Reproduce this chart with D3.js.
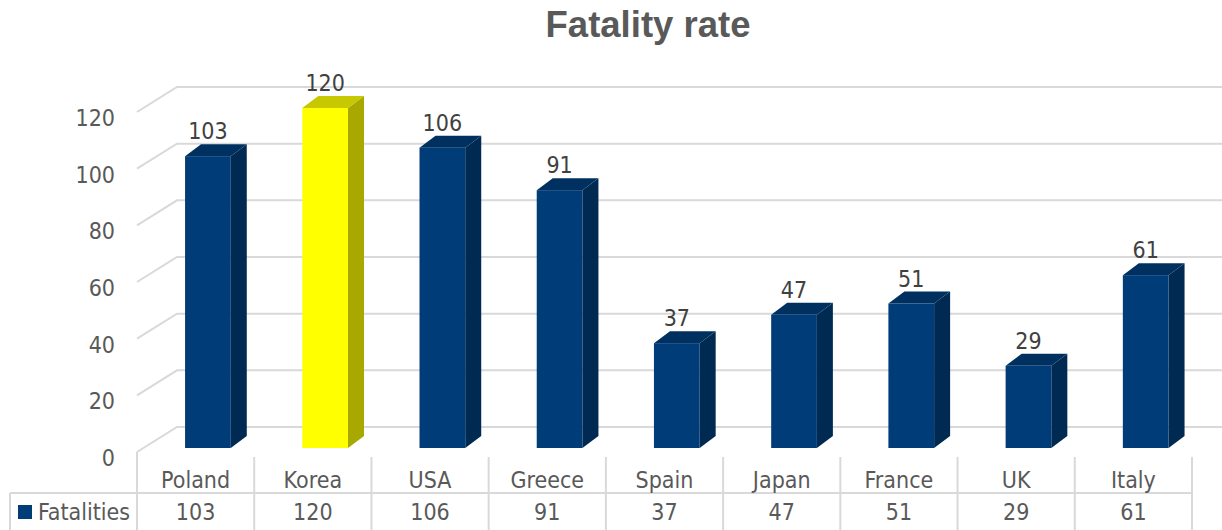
<!DOCTYPE html>
<html><head><meta charset="utf-8">
<script src="https://cdn.jsdelivr.net/npm/d3@7/dist/d3.min.js"></script>
<style>body{margin:0;background:#fff}svg{display:block}</style>
</head><body><svg id="c" width="1222" height="530"></svg>
<script>
const title = "Fatality rate";
const seriesName = "Fatalities";
const categories = ["Poland","Korea","USA","Greece","Spain","Japan","France","UK","Italy"];
const values = [103,120,106,91,37,47,51,29,61];
const highlight = ["Korea"];
const yTicks = [0,20,40,60,80,100,120];

const svg = d3.select("#c");
const font = "'DejaVu Sans Condensed', 'DejaVu Sans', Verdana, sans-serif";
const fs = 23;
const grid = "#d9d9d9";
const txt = "#595959";

const x = d3.scaleBand().domain(categories).range([137,1192]).padding(0);
const y = d3.scaleLinear().domain([0,120]).range([448,108]);
const wallDX = 40, wallDY = -25, floorOff = 4;
const barDX = 16, barDY = -12;

// title
svg.append("text").attr("x",648).attr("y",37).attr("text-anchor","middle")
  .attr("font-family","'Liberation Sans', Arial, sans-serif").attr("font-weight","bold").attr("font-size",36.5)
  .attr("fill",txt).text(title);

// gridlines (back wall + side diagonals)
const g = svg.append("g").attr("stroke",grid).attr("stroke-width",2).attr("fill","none");
yTicks.forEach(v=>{
  const fy = y(v)+floorOff, by = fy+wallDY;
  g.append("path").attr("d",`M137,${fy}L${137+wallDX},${by}L1232,${by}`);
});

// y labels
svg.append("g").selectAll("text").data(yTicks).join("text")
  .attr("x",115).attr("y",d=>y(d)+floorOff+14).attr("text-anchor","end")
  .attr("font-family",font).attr("font-size",fs).attr("fill",txt).text(d=>d);

// bars
const data = categories.map((c,i)=>({c,v:values[i]}));
const bw = x.bandwidth();
const bars = svg.append("g").selectAll("g").data(data).join("g");
bars.each(function(d){
  const s = d3.select(this);
  const hi = highlight.includes(d.c);
  const cFront = hi ? "#ffff00" : "#003d78";
  const cSide = hi ? "#a8a800" : "#002a52";
  const cTop = hi ? "#c8c800" : "#00305f";
  const x0 = x(d.c)+bw*0.41, w = bw*0.39, y0 = y(0), y1 = y(d.v);
  s.append("path").attr("fill",cSide)
    .attr("d",`M${x0+w},${y1}L${x0+w+barDX},${y1+barDY}L${x0+w+barDX},${y0+barDY}L${x0+w},${y0}Z`);
  s.append("path").attr("fill",cTop)
    .attr("d",`M${x0},${y1}L${x0+barDX},${y1+barDY}L${x0+w+barDX},${y1+barDY}L${x0+w},${y1}Z`);
  s.append("rect").attr("x",x0).attr("y",y1).attr("width",w).attr("height",y0-y1).attr("fill",cFront);
  s.append("text").attr("x",x0+w/2).attr("y",y1-17).attr("text-anchor","middle")
    .attr("font-family",font).attr("font-size",fs).attr("fill","#404040").text(d.v);
});

// data table
const t = svg.append("g").attr("stroke",grid).attr("stroke-width",2);
t.append("line").attr("x1",10).attr("x2",1192).attr("y1",493).attr("y2",493);
t.append("line").attr("x1",10).attr("x2",10).attr("y1",493).attr("y2",532);
const bounds = categories.map(c=>x(c)).concat([x.range()[1]]);
bounds.forEach((bx,i)=>{
  t.append("line").attr("x1",bx).attr("x2",bx).attr("y1",i===0?452:457).attr("y2",532);
});
svg.append("g").selectAll("text").data(categories).join("text")
  .attr("x",d=>x(d)+bw/2).attr("y",488).attr("text-anchor","middle")
  .attr("font-family",font).attr("font-size",fs).attr("fill",txt).text(d=>d);
svg.append("g").selectAll("text").data(values).join("text")
  .attr("x",(d,i)=>x(categories[i])+bw/2).attr("y",520).attr("text-anchor","middle")
  .attr("font-family",font).attr("font-size",fs).attr("fill",txt).text(d=>d);
svg.append("rect").attr("x",18).attr("y",505).attr("width",14).attr("height",14).attr("fill","#003d78");
svg.append("text").attr("x",38).attr("y",520).attr("font-family",font).attr("font-size",fs)
  .attr("fill",txt).text(seriesName);
</script></body></html>
